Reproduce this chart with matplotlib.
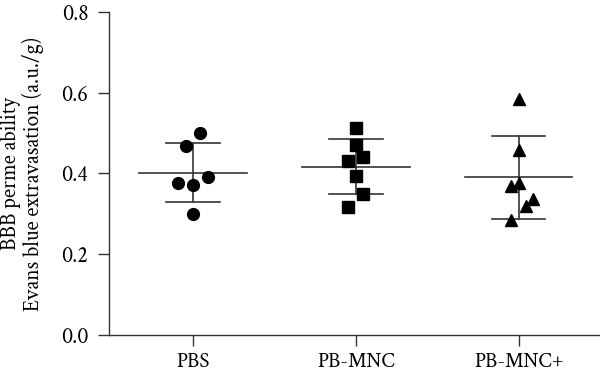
import numpy as np
import matplotlib
matplotlib.use("Agg")
import matplotlib.pyplot as plt

# data (a.u./g)
groups = ["PBS", "PB-MNC", "PB-MNC+"]
pbs = [0.501, 0.469, 0.390, 0.376, 0.371, 0.299]
pb_mnc = [0.513, 0.470, 0.431, 0.440, 0.393, 0.350, 0.317]
pb_mnc_plus = [0.585, 0.458, 0.369, 0.377, 0.337, 0.318, 0.285]
yticks = [0.0, 0.2, 0.4, 0.6, 0.8]

# swarm placement of the points, in marker steps
swarm_pbs = [1, -1, 2, -2, 0, 0]
swarm_mnc = [0, 0, -1, 1, 0, 1, -1]
swarm_mnc_plus = [0, 0, -1, 0, 2, 1, -1]

plt.rcParams['font.family'] = ['Crimson Text', 'Liberation Serif', 'DejaVu Serif']

fig = plt.figure(figsize=(6.0, 3.74), dpi=100)
ax = fig.add_axes([0.182, 0.105, 0.818, 0.863])

series = [pbs, pb_mnc, pb_mnc_plus]
swarms = [swarm_pbs, swarm_mnc, swarm_mnc_plus]
markers = ['o', 's', '^']
sizes = [8.5, 8, 8.5]
step = 0.045
line_col = '#333333'

for i, (vals, sw) in enumerate(zip(series, swarms)):
    vals = np.array(vals)
    xs = i + step * np.array(sw)
    ax.plot(xs, vals, linestyle='none', marker=markers[i], ms=sizes[i],
            color='black', zorder=3)
    # mean +/- SD
    m = vals.mean()
    sd = vals.std(ddof=1)
    ax.plot([i - 0.33, i + 0.33], [m, m], color=line_col, lw=1.2, zorder=2)
    ax.plot([i, i], [m - sd, m + sd], color=line_col, lw=1.2, zorder=2)
    ax.plot([i - 0.165, i + 0.165], [m + sd, m + sd], color=line_col, lw=1.2, zorder=2)
    ax.plot([i - 0.165, i + 0.165], [m - sd, m - sd], color=line_col, lw=1.2, zorder=2)

ax.set_xlim(-0.515, 2.5)
ax.set_ylim(0, 0.8)
ax.set_xticks(range(len(groups)))
ax.set_xticklabels(groups, fontsize=15)
ax.set_yticks(yticks)
ax.set_yticklabels(["%.1f" % v for v in yticks], fontsize=16)
ax.tick_params(direction='out', length=8, width=1, color='#333333')
ax.tick_params(axis='y', pad=7)
ax.tick_params(axis='x', pad=5)

for s in ['top', 'right']:
    ax.spines[s].set_visible(False)
for s in ['left', 'bottom']:
    ax.spines[s].set_color('#333333')
    ax.spines[s].set_linewidth(1)

ax.set_ylabel("BBB perme ability\nEvans blue extravasation (a.u./g)",
              fontsize=15.5, linespacing=1.05, labelpad=12)

fig.savefig("out.png", dpi=100)
